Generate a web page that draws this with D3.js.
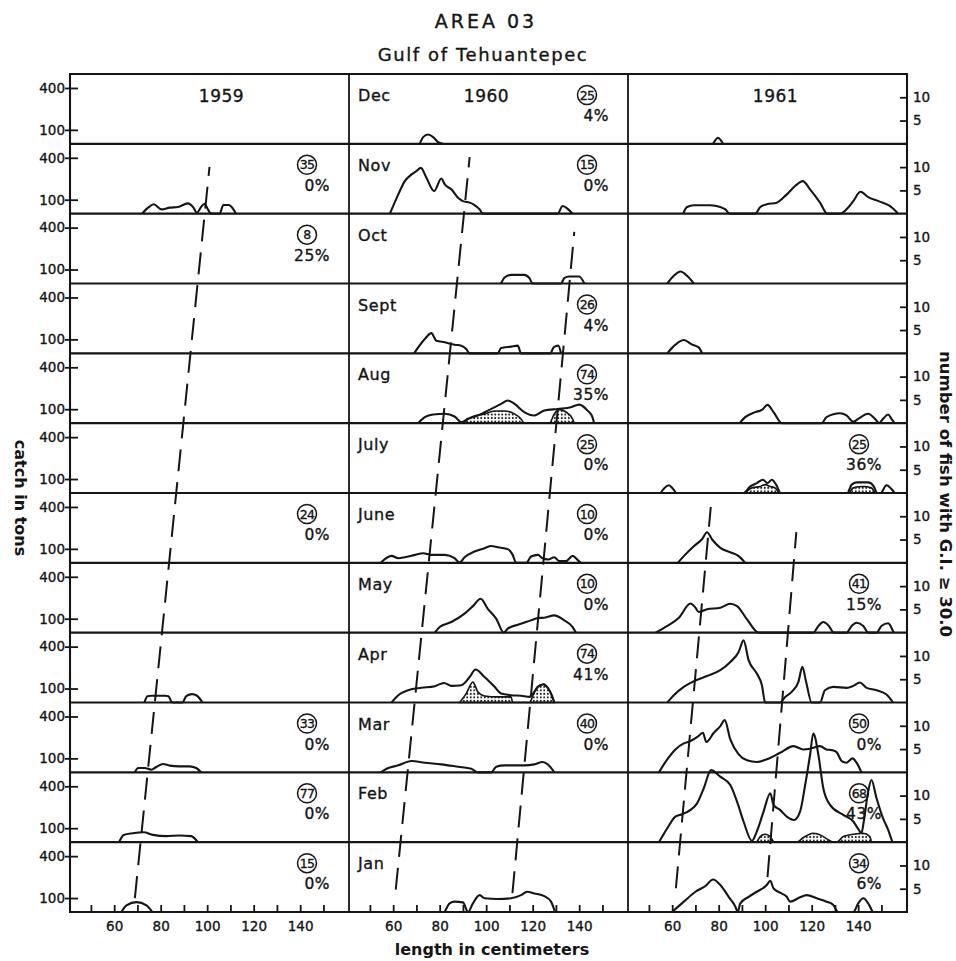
<!DOCTYPE html>
<html>
<head>
<meta charset="utf-8">
<script src="https://cdn.jsdelivr.net/npm/d3@7"></script>
<style>
  body { margin: 0; background: #fff; }
  svg { font-family: 'DejaVu Sans', sans-serif; }
  .ink text, text.ink { stroke: #151515; stroke-width: 0.35px; }
</style>
</head>
<body>
<svg id="chart" width="956" height="961"></svg>
<script>
// categories and ticks
const years = [1959, 1960, 1961]
const months = ['Jan', 'Feb', 'Mar', 'Apr', 'May', 'June', 'July', 'Aug', 'Sept', 'Oct', 'Nov', 'Dec']
const tonsTicks = [100, 400]
const fishTicks = [5, 10]
const lengthTicks = [50, 60, 70, 80, 90, 100, 110, 120, 130, 140, 150]
const lengthLabels = [60, 80, 100, 120, 140]

// catch in tons by length (cm), one array per month and year
const nov1959 = [[72, 0], [74.6, 43], [77, 67], [80.3, 31], [83.9, 43], [87.4, 48], [91.7, 74], [93.9, 48], [95.6, 7], [97.4, 48], [98.9, 71], [100.3, 31], [101.7, 0], [105.3, 0], [107, 62], [109.3, 62], [111, 38], [112.4, 0]]
const apr1959 = [[73, 0], [74.3, 45], [76, 48], [82, 48], [83.3, 45], [85, 0], [89.3, 0], [91, 45], [93.5, 60], [95.5, 50], [98, 0]]
const mar1959 = [[68.9, 0], [70.3, 31], [73.1, 31], [76, 19], [78.1, 38], [81, 60], [83.9, 48], [88.1, 43], [92.4, 43], [95.3, 31], [97.4, 0]]
const feb1959 = [[62.1, 0], [64.1, 52], [68.1, 64], [72.7, 71], [76.7, 52], [82.4, 43], [88.1, 48], [93.1, 43], [96, 0]]
const jan1959 = [[63.1, 0], [65.3, 48], [69.6, 71], [73.9, 48], [76.4, 0]]

const dec1960 = [[71.4, 0], [72.9, 48], [75, 67], [77.2, 48], [79.3, 12], [81.4, 0]]
const nov1960 = [[58.6, 0], [62.2, 138], [65, 233], [67.9, 281], [70, 305], [71.9, 328], [74.3, 257], [77.6, 162], [80.7, 252], [82.2, 209], [85, 174], [87.9, 114], [90, 90], [92.9, 79], [95, 62], [97.2, 31], [98.6, 0], [130.7, 0], [132.9, 55], [135.3, 31], [137.2, 0]]
const oct1960 = [[106.4, 0], [107.9, 43], [110.7, 62], [116.4, 62], [118.6, 38], [120, 0], [132.2, 0], [133.6, 38], [135.7, 50], [140, 50], [142.2, 0]]
const sep1960 = [[69, 0], [73.6, 102], [76.4, 145], [78.6, 90], [82.2, 79], [86.4, 62], [89.3, 55], [91.4, 31], [92.9, 0], [105, 0], [106.4, 38], [110.7, 48], [113.6, 55], [115, 0], [127.6, 0], [129, 43], [131, 55], [132.2, 0]]
const aug1960 = [[70.7, 0], [73.6, 43], [77.2, 62], [82.2, 67], [86.4, 48], [89.3, 7], [92.2, 31], [96.4, 55], [102.2, 102], [106.4, 138], [109.3, 162], [112.2, 138], [116.4, 79], [120.7, 55], [125, 90], [130.7, 102], [136.4, 114], [140, 133], [143.6, 90], [145.7, 43], [146.4, 0]]
const jun1960 = [[54.7, 0], [56.4, 26], [59.3, 50], [62.2, 33], [65, 40], [69.3, 57], [72.9, 69], [76.4, 57], [82.2, 57], [86.4, 33], [88.6, 2], [90.7, 40], [95, 81], [99.3, 105], [102.2, 121], [105, 112], [109.3, 98], [111.4, 57], [112.9, 0], [117.2, 0], [119.3, 45], [122.2, 57], [124.3, 33], [126.7, 24], [129.3, 40], [131.4, 12], [134.3, 12], [137.2, 50], [139.3, 21], [140.7, 0]]
const may1960 = [[77.9, 0], [80, 40], [85, 76], [90.7, 136], [94.3, 190], [97.6, 243], [100.7, 171], [104.3, 100], [107.6, 0], [109.3, 29], [113.6, 57], [119.3, 88], [122.2, 105], [125, 107], [129.3, 124], [133.6, 88], [137.2, 40], [138.6, 0]]
const apr1960 = [[59.3, 0], [62.2, 52], [66.4, 88], [72.2, 105], [77.9, 117], [81.9, 140], [85, 119], [89.3, 124], [92.9, 183], [95.4, 236], [99.3, 183], [103.6, 112], [106.4, 64], [110.7, 52], [115, 48], [118.6, 40], [120.7, 76], [122.2, 112], [124.7, 131], [126.7, 100], [128.2, 52], [129.3, 0]]
const mar1960 = [[54.7, 0], [57.2, 26], [62.2, 50], [67.9, 81], [73.6, 69], [80.7, 57], [87.9, 40], [93.6, 26], [96.4, 0], [102.2, 0], [104.3, 40], [107.9, 50], [116.4, 50], [120.7, 57], [124.3, 74], [127.2, 45], [129.3, 0]]
const jan1960 = [[82.2, 0], [84.3, 62], [86.4, 74], [90, 69], [92.2, 0], [94.3, 62], [97.2, 121], [99.3, 98], [105, 93], [110.7, 98], [115, 121], [117.6, 145], [120.7, 133], [125, 114], [127.9, 74], [129.6, 0]]

const dec1961 = [[77.6, 0], [79.7, 43], [81.9, 0]]
const nov1961 = [[64.7, 0], [66.4, 48], [69.3, 60], [76.4, 60], [80.7, 48], [82.9, 31], [84.7, 0], [95.7, 0], [97.9, 48], [100.7, 67], [105, 79], [109.3, 138], [112.9, 198], [116.2, 233], [119.3, 174], [123.6, 79], [126.7, 0], [132.2, 0], [135, 31], [137.9, 90], [141, 157], [144.3, 119], [149.3, 86], [153.6, 55], [157.2, 0]]
const oct1961 = [[57.9, 0], [60.7, 55], [63.6, 86], [66.4, 55], [69.3, 0]]
const sep1961 = [[57.9, 0], [61.4, 62], [65, 95], [68.6, 62], [71.4, 43], [72.9, 0]]
const aug1961 = [[89, 0], [91.4, 43], [95.7, 79], [98.6, 95], [101, 131], [103.6, 79], [107.2, 0], [124.3, 0], [126.4, 43], [132.2, 71], [135, 55], [137.9, 10], [140, 31], [144.3, 67], [147.2, 31], [149, 0], [150.7, 31], [152.9, 62], [154.3, 31], [155.7, 0]]
const jul1961 = [[55, 0], [56.7, 36], [58.6, 55], [60.4, 29], [61.9, 0], [90.7, 0], [93.6, 48], [96.4, 71], [99, 95], [101, 71], [102.9, 95], [104.7, 60], [106.7, 0], [135.3, 0], [137.2, 60], [139.3, 76], [144.3, 76], [146.7, 48], [148.1, 0], [149.6, 0], [152.2, 55], [154.3, 29], [155.7, 0]]
const jun1961 = [[62.4, 0], [65, 48], [69.3, 119], [72.9, 171], [75, 219], [77.2, 167], [80.7, 107], [85, 76], [88.6, 48], [91.4, 0]]
const may1961 = [[52.9, 0], [57.9, 48], [62.9, 107], [67.9, 209], [70, 179], [71.4, 148], [75, 167], [80.7, 179], [85, 207], [87.9, 190], [92.2, 95], [97.2, 0], [120.7, 0], [122.9, 48], [125, 76], [127.2, 52], [129.6, 0], [135, 0], [137.2, 48], [139.3, 71], [142.2, 48], [144.3, 0], [147.9, 0], [150, 48], [152.9, 67], [154.3, 36], [155.3, 0]]
const apr1961 = [[57.9, 0], [60.7, 52], [65, 112], [69.3, 152], [75, 190], [80.7, 231], [85, 290], [88.6, 362], [90.7, 445], [92.9, 302], [96.4, 207], [98.6, 124], [100, 0], [106.4, 0], [108.6, 40], [111.4, 76], [114.3, 148], [116, 255], [117.6, 148], [120, 0], [123.6, 0], [125.7, 88], [129.3, 112], [135, 105], [137.9, 119], [140.7, 143], [143.6, 105], [147.9, 88], [152.2, 57], [155, 0]]
const mar1961 = [[54.3, 0], [57.9, 93], [61.4, 164], [65, 207], [67.9, 224], [71, 255], [73.2, 283], [74.7, 217], [77.9, 283], [80.7, 331], [82.6, 374], [85, 236], [88.6, 129], [92.2, 86], [96.4, 74], [100.7, 93], [106.4, 140], [112.2, 188], [116.4, 164], [119.3, 169], [123.6, 188], [126.4, 164], [128.6, 159], [130.7, 145], [132.9, 81], [135, 69], [137.6, 100], [139.3, 69], [141.4, 0]]
const feb1961 = [[54.3, 0], [57.9, 100], [61.4, 183], [64.3, 200], [67.9, 231], [70.7, 278], [73.6, 386], [76.7, 516], [80.7, 469], [85, 409], [87.9, 290], [90.7, 148], [94.3, 10], [96.4, 76], [99.3, 219], [102.2, 350], [103.6, 267], [106.4, 231], [109.3, 183], [112.4, 159], [115, 219], [117.2, 409], [119.3, 624], [120.7, 778], [122.9, 624], [125, 386], [127.9, 267], [133.6, 195], [137.9, 148], [140, 95], [141.4, 64], [142.4, 148], [144.3, 362], [145.7, 445], [147.9, 314], [150.7, 171], [152.9, 88], [154.7, 0]]
const jan1961 = [[60, 0], [65, 74], [70, 145], [74.3, 186], [77.6, 233], [80.7, 193], [84.3, 109], [87.2, 38], [88.2, 0], [89.3, 62], [92.9, 109], [96.4, 145], [100.7, 193], [102.2, 224], [103.6, 169], [106.4, 138], [109.3, 109], [110.7, 74], [115, 105], [117.9, 121], [122.2, 98], [126.4, 74], [129.3, 50], [131.4, 0], [137.9, 0], [140, 62], [142.2, 98], [144.3, 62], [146.2, 0]]

// number of fish with G.I. >= 30.0 by length (cm)
const giAug1960 = [[90, 0], [93.6, 1.3], [99.3, 2], [103.6, 2.6], [107.9, 2.6], [112.2, 2], [115, 0.9], [116.4, 0], [127.2, 0], [129.3, 2], [131.4, 2.9], [134.3, 2.4], [137.2, 0.9], [137.9, 0]]
const giApr1960 = [[88.6, 0], [91.4, 1.9], [94.3, 4.4], [96.4, 2.3], [99.3, 1.4], [105, 1.2], [110.7, 1.2], [111.4, 0], [118.6, 0], [120.7, 2.3], [122.2, 3.4], [124.7, 3.9], [126.7, 3], [128.2, 1.6], [129.3, 0]]
const giJul1961 = [[91, 0], [94.3, 1.1], [97.9, 1.4], [100, 1.8], [102.2, 1.4], [104.3, 1.1], [106.1, 0], [135.7, 0], [137.9, 1.1], [142.2, 1.4], [145.7, 1.1], [147.2, 0]]
const giFeb1961 = [[96.4, 0], [97.9, 1.2], [100, 1.7], [102.2, 1.2], [103.9, 0], [113.6, 0], [116.4, 1], [120.7, 1.9], [124.3, 1.4], [127.2, 0.5], [129.3, 0], [130.7, 0], [133.6, 1.2], [137.9, 1.7], [142.2, 1.9], [145, 1.2], [145.7, 0]]

// circled sample size and percent with G.I. >= 30.0
const samples1959 = [['Nov', 35, 0], ['Oct', 8, 25], ['June', 24, 0], ['Mar', 33, 0], ['Feb', 77, 0], ['Jan', 15, 0]]
const samples1960 = [['Dec', 25, 4], ['Nov', 15, 0], ['Sept', 26, 4], ['Aug', 74, 35], ['July', 25, 0], ['June', 10, 0], ['May', 10, 0], ['Apr', 74, 41], ['Mar', 40, 0]]
const samples1961 = [['July', 25, 36], ['May', 41, 15], ['Mar', 50, 0], ['Feb', 68, 43], ['Jan', 34, 6]]

// modal progression lines: [length cm, months from bottom of Jan]
const mode1959 = [[68.9, 0.2], [101, 10.67]]
const mode1960a = [[61.1, 0.32], [92.9, 10.81]]
const mode1960b = [[111.3, 0.27], [137.9, 9.74]]
const mode1961a = [[61.6, 0.34], [76.6, 5.8]]
const mode1961b = [[101, 0.5], [113.4, 5.44]]

// tables built from the arrays above
const curves = [
  [0, 'Nov', nov1959], [0, 'Apr', apr1959], [0, 'Mar', mar1959], [0, 'Feb', feb1959], [0, 'Jan', jan1959],
  [1, 'Dec', dec1960], [1, 'Nov', nov1960], [1, 'Oct', oct1960], [1, 'Sept', sep1960], [1, 'Aug', aug1960],
  [1, 'June', jun1960], [1, 'May', may1960], [1, 'Apr', apr1960], [1, 'Mar', mar1960], [1, 'Jan', jan1960],
  [2, 'Dec', dec1961], [2, 'Nov', nov1961], [2, 'Oct', oct1961], [2, 'Sept', sep1961], [2, 'Aug', aug1961],
  [2, 'July', jul1961], [2, 'June', jun1961], [2, 'May', may1961], [2, 'Apr', apr1961], [2, 'Mar', mar1961],
  [2, 'Feb', feb1961], [2, 'Jan', jan1961]
]
const giAreas = [[1, 'Aug', giAug1960], [1, 'Apr', giApr1960], [2, 'July', giJul1961], [2, 'Feb', giFeb1961]]
const samples = [samples1959, samples1960, samples1961]
const modes = [[0, mode1959], [1, mode1960a], [1, mode1960b], [2, mode1961a], [2, mode1961b]]

// layout
const plot = {left: 70, top: 74, right: 907, bottom: 912}
const colW = (plot.right - plot.left) / 3
const rowH = (plot.bottom - plot.top) / 12
const ink = '#151515'

// per column fine offsets for the lettering
const circleDx = [-42, -41, -48]
const pctDx = [-19, -19, -25]
const yearDx = [12, -2, 8]

const svg = d3.select('#chart')

const pattern = svg.append('defs').append('pattern')
  .attr('id', 'dots')
  .attr('width', 3.5).attr('height', 3.5)
  .attr('patternUnits', 'userSpaceOnUse')
pattern.append('rect').attr('width', 3.5).attr('height', 3.5).attr('fill', '#fff')
pattern.append('circle').attr('cx', 1.75).attr('cy', 1.75).attr('r', 1).attr('fill', ink)

// scales
const yMonth = d3.scaleLinear().domain([0, 12]).range([plot.bottom, plot.top])
const xCol = years.map((y, i) => d3.scaleLinear()
  .domain([41, 161])
  .range([plot.left + i * colW, plot.left + (i + 1) * colW]))
const tonsY = d3.scaleLinear().domain([0, 500]).range([rowH, 0])
const fishY = d3.scaleLinear().domain([0, 15]).range([rowH, 0])

function rowTop (month) {
  return yMonth(months.indexOf(month) + 1)
}

// titles
svg.append('text')
  .classed('ink', true)
  .attr('x', 486).attr('y', 28)
  .attr('text-anchor', 'middle')
  .attr('font-size', 19).attr('letter-spacing', 3)
  .attr('fill', ink)
  .text('AREA 03')
svg.append('text')
  .classed('ink', true)
  .attr('x', 483).attr('y', 61)
  .attr('text-anchor', 'middle')
  .attr('font-size', 18).attr('letter-spacing', 1.6)
  .attr('fill', ink)
  .text('Gulf of Tehuantepec')

// dotted G.I. areas
const marks = svg.append('g')
giAreas.forEach(([c, m, pts]) => {
  const area = d3.area()
    .x((d) => xCol[c](d[0]))
    .y0(rowH)
    .y1((d) => fishY(d[1]))
    .curve(d3.curveMonotoneX)
  marks.append('path')
    .attr('transform', 'translate(0,' + rowTop(m) + ')')
    .attr('d', area(pts))
    .attr('fill', 'url(#dots)')
    .attr('stroke', ink)
    .attr('stroke-width', 1.6)
})

// catch curves
curves.forEach(([c, m, pts]) => {
  const line = d3.line()
    .x((d) => xCol[c](d[0]))
    .y((d) => tonsY(d[1]))
    .curve(d3.curveMonotoneX)
  marks.append('path')
    .attr('transform', 'translate(0,' + rowTop(m) + ')')
    .attr('d', line(pts))
    .attr('fill', 'none')
    .attr('stroke', ink)
    .attr('stroke-width', 2.1)
    .attr('stroke-linejoin', 'round')
})

// modal progression dashed lines
modes.forEach(([c, pts]) => {
  const line = d3.line()
    .x((d) => xCol[c](d[0]))
    .y((d) => yMonth(d[1]))
  marks.append('path')
    .attr('d', line(pts))
    .attr('fill', 'none')
    .attr('stroke', ink)
    .attr('stroke-width', 2)
    .attr('stroke-dasharray', '22,11')
})

// frame: rows and columns
const frame = svg.append('g')
  .attr('stroke', ink)
  .attr('fill', 'none')
d3.range(13).forEach((i) => {
  frame.append('line')
    .attr('x1', plot.left - 1).attr('x2', plot.right + 1)
    .attr('y1', yMonth(i)).attr('y2', yMonth(i))
    .attr('stroke-width', 2.1)
})
d3.range(4).forEach((i) => {
  frame.append('line')
    .attr('x1', plot.left + i * colW).attr('x2', plot.left + i * colW)
    .attr('y1', plot.top).attr('y2', plot.bottom)
    .attr('stroke-width', i === 0 || i === 3 ? 2.1 : 1.8)
})

// left and right axes for each row
months.forEach((m) => {
  const top = rowTop(m)

  const left = svg.append('g')
    .classed('ink', true)
    .attr('transform', 'translate(' + plot.left + ',' + top + ')')
    .call(d3.axisLeft(tonsY).tickValues(tonsTicks).tickSizeOuter(0))
  left.select('.domain').remove()
  left.selectAll('.tick line').attr('x1', 8).attr('x2', -5)
    .attr('stroke', ink).attr('stroke-width', 1.8)
  left.selectAll('.tick text').attr('x', -5)
    .attr('font-size', 13.5).attr('font-family', 'DejaVu Sans').attr('fill', ink)

  const right = svg.append('g')
    .classed('ink', true)
    .attr('transform', 'translate(' + plot.right + ',' + top + ')')
    .call(d3.axisRight(fishY).tickValues(fishTicks).tickSizeOuter(0))
  right.select('.domain').remove()
  right.selectAll('.tick line').attr('x1', -7).attr('x2', 1)
    .attr('stroke', ink).attr('stroke-width', 1.8)
  right.selectAll('.tick text').attr('x', 6)
    .attr('font-size', 13.5).attr('font-family', 'DejaVu Sans').attr('fill', ink)
})

// bottom length axis for each column
xCol.forEach((x) => {
  const bottom = svg.append('g')
    .classed('ink', true)
    .attr('transform', 'translate(0,' + plot.bottom + ')')
    .call(d3.axisBottom(x)
      .tickValues(lengthTicks)
      .tickSizeInner(-7)
      .tickSizeOuter(0)
      .tickPadding(9)
      .tickFormat((d) => lengthLabels.includes(d) ? d : ''))
  bottom.select('.domain').remove()
  bottom.selectAll('.tick line').attr('stroke', ink).attr('stroke-width', 1.8)
  bottom.selectAll('.tick text')
    .attr('font-size', 13.5).attr('font-family', 'DejaVu Sans').attr('fill', ink)
})

// year headings
years.forEach((y, i) => {
  svg.append('text')
    .classed('ink', true)
    .attr('x', plot.left + (i + 0.5) * colW + yearDx[i])
    .attr('y', plot.top + 28)
    .attr('text-anchor', 'middle')
    .attr('font-size', 17).attr('letter-spacing', 0.5)
    .attr('fill', ink)
    .text(y)
})

// month labels in the middle column
months.forEach((m) => {
  svg.append('text')
    .classed('ink', true)
    .attr('x', plot.left + colW + 9)
    .attr('y', rowTop(m) + 27)
    .attr('font-size', 16).attr('letter-spacing', 0.6)
    .attr('fill', ink)
    .text(m)
})

// circled sample sizes and percentages
samples.forEach((list, c) => {
  const colRight = plot.left + (c + 1) * colW
  list.forEach(([m, n, pct]) => {
    const top = rowTop(m)
    const g = svg.append('g').classed('ink', true)
    g.append('circle')
      .attr('cx', colRight + circleDx[c])
      .attr('cy', top + 21)
      .attr('r', 9.5)
      .attr('fill', 'none')
      .attr('stroke', ink)
      .attr('stroke-width', 1.5)
    g.append('text')
      .attr('x', colRight + circleDx[c])
      .attr('y', top + 25.5)
      .attr('text-anchor', 'middle')
      .attr('font-size', 12.5).attr('letter-spacing', -0.6)
      .attr('fill', ink)
      .text(n)
    g.append('text')
      .attr('x', colRight + pctDx[c])
      .attr('y', top + 47)
      .attr('text-anchor', 'end')
      .attr('font-size', 15.5).attr('letter-spacing', 0.5)
      .attr('fill', ink)
      .text(pct + '%')
  })
})

// axis titles
svg.append('text')
  .attr('transform', 'translate(15,498) rotate(90)')
  .attr('text-anchor', 'middle')
  .attr('font-size', 16).attr('font-weight', 'bold')
  .attr('fill', ink)
  .text('catch in tons')
svg.append('text')
  .attr('transform', 'translate(940,494) rotate(90)')
  .attr('text-anchor', 'middle')
  .attr('font-size', 16.5).attr('font-weight', 'bold')
  .attr('fill', ink)
  .text('number of fish with G.I. \u2265 30.0')
svg.append('text')
  .attr('x', 492).attr('y', 955)
  .attr('text-anchor', 'middle')
  .attr('font-size', 16).attr('font-weight', 'bold')
  .attr('fill', ink)
  .text('length in centimeters')
</script>
</body>
</html>
